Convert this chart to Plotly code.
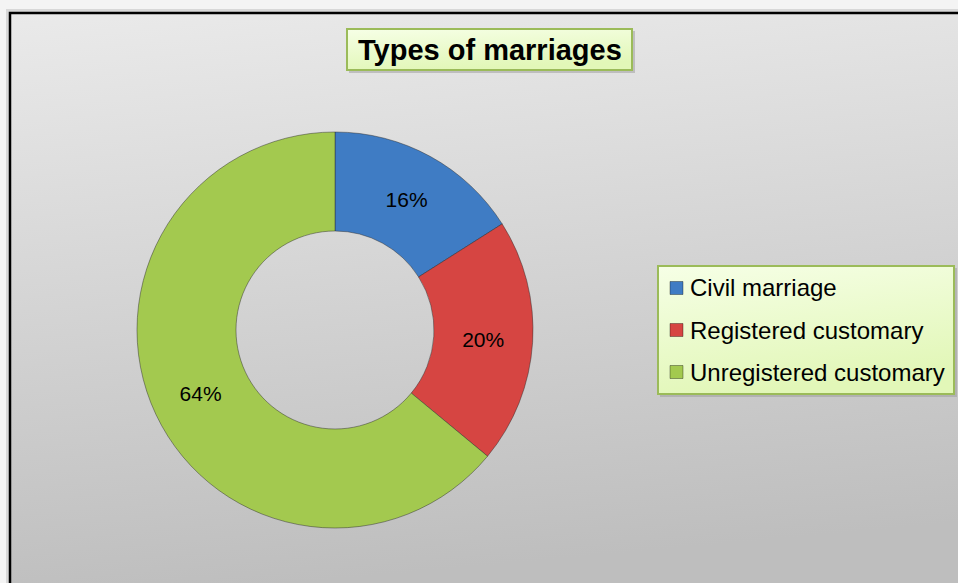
import base64
import plotly.graph_objects as go

categories = ["Civil marriage", "Registered customary", "Unregistered customary"]
values = [16, 20, 64]
colors = ["#3F7CC4", "#D64542", "#A3C94F"]
title_text = "Types of marriages"

W, H = 958, 583

svg = f'''<svg xmlns="http://www.w3.org/2000/svg" width="{W}" height="{H}" viewBox="0 0 {W} {H}" preserveAspectRatio="none">
<defs>
<linearGradient id="bg" x1="0" y1="0" x2="0.15" y2="1">
<stop offset="0" stop-color="#EAEAEA"/><stop offset="1" stop-color="#BEBEBE"/></linearGradient>
<linearGradient id="gb" x1="0" y1="0" x2="0.3" y2="1">
<stop offset="0" stop-color="#F6FFE6"/><stop offset="1" stop-color="#E2F7B8"/></linearGradient>
</defs>
<rect x="0" y="0" width="{W}" height="{H}" fill="#F4F4F4"/>
<rect x="6" y="9" width="{W}" height="{H}" fill="#D8D8D8"/>
<rect x="10" y="13" width="{W}" height="{H}" fill="url(#bg)" stroke="#000" stroke-width="2.5"/>
<rect x="349" y="31" width="286" height="42" fill="#9A9A9A" opacity="0.5"/>
<rect x="347" y="29" width="285" height="41" fill="url(#gb)" stroke="#9BBB59" stroke-width="2"/>
<rect x="660" y="268" width="297" height="129" fill="#9A9A9A" opacity="0.5"/>
<rect x="658" y="266" width="296" height="128" fill="url(#gb)" stroke="#9BBB59" stroke-width="2"/>
</svg>'''
src = "data:image/svg+xml;base64," + base64.b64encode(svg.encode()).decode()

fig = go.Figure()
fig.add_trace(go.Pie(
    labels=categories, values=values, sort=False, direction="clockwise", rotation=0,
    hole=0.5,
    marker=dict(colors=colors, line=dict(color="rgba(40,40,40,0.45)", width=1)),
    texttemplate="%{percent:.0%}", textposition="inside", insidetextorientation="horizontal",
    textfont=dict(family="Liberation Sans, Arial", size=21, color="black"),
    domain=dict(x=[137 / W, 533 / W], y=[55 / H, 451 / H]),
    showlegend=False, hoverinfo="label+percent",
))

fig.add_annotation(text="<b>" + title_text + "</b>", x=490 / W, y=1 - 50 / H, xref="paper", yref="paper",
                   showarrow=False, font=dict(family="Liberation Sans, Arial", size=29, color="black"),
                   xanchor="center", yanchor="middle")

shapes = []
for i, (c, col) in enumerate(zip(categories, colors)):
    yc = 288 + 42 * i
    shapes.append(dict(type="rect", xref="paper", yref="paper",
                       x0=670 / W, x1=683 / W, y0=1 - (yc - 6.5) / H, y1=1 - (yc + 6.5) / H,
                       fillcolor=col, line=dict(color="rgba(0,0,0,0.35)", width=1)))
    fig.add_annotation(text=c, x=688 / W, y=1 - yc / H, xref="paper", yref="paper",
                       showarrow=False, xanchor="left", yanchor="middle",
                       font=dict(family="Liberation Sans, Arial", size=24, color="black"))

fig.update_layout(
    width=W, height=H, margin=dict(l=0, r=0, t=0, b=0),
    paper_bgcolor="white", plot_bgcolor="rgba(0,0,0,0)",
    shapes=shapes,
    images=[dict(source=src, xref="paper", yref="paper", x=0, y=1, sizex=1, sizey=1,
                 sizing="stretch", layer="below", xanchor="left", yanchor="top")],
)
fig.write_html("out.html", config={"displayModeBar": False},
               post_script="document.body.style.margin='0';document.body.style.overflow='hidden';")
